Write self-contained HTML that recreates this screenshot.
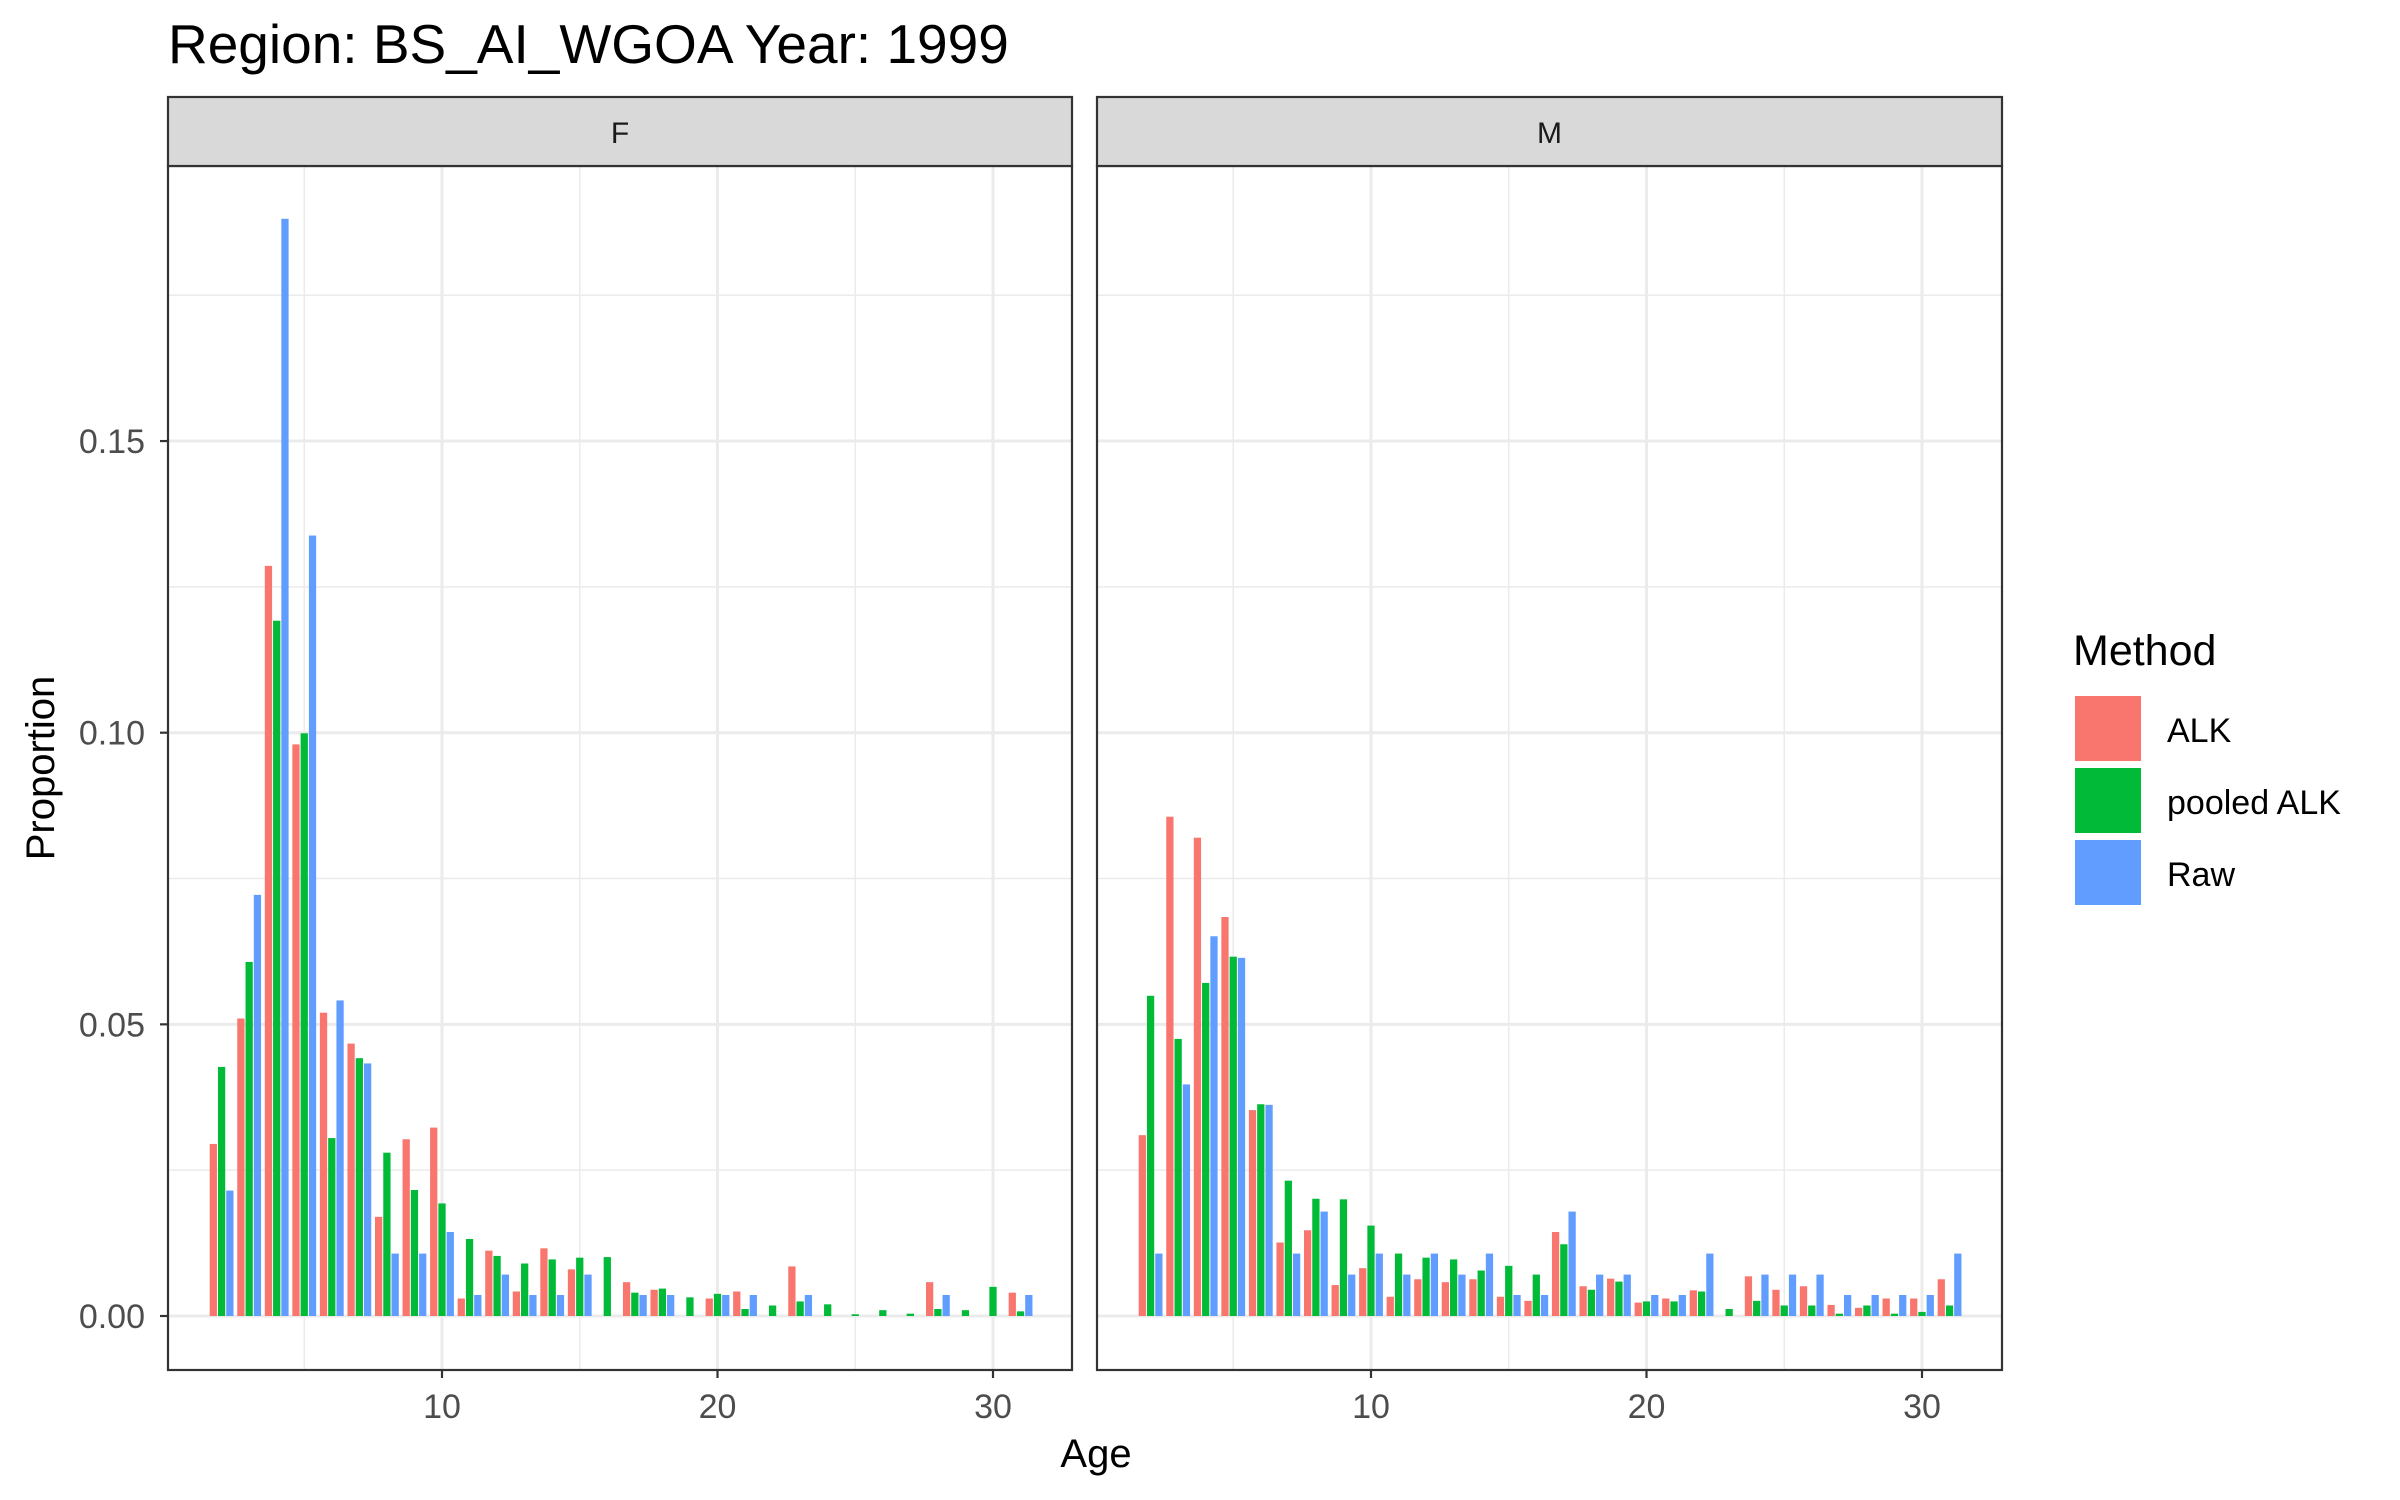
<!DOCTYPE html>
<html><head><meta charset="utf-8"><style>
html,body{margin:0;padding:0;background:#fff;}
svg{display:block;font-family:"Liberation Sans",Arial,sans-serif;}
</style></head><body>
<svg id="chart" width="2400" height="1500" xmlns="http://www.w3.org/2000/svg">
<text x="168" y="63" font-size="55" fill="#000">Region: BS_AI_WGOA Year: 1999</text>
<text x="1096" y="1467" font-size="40" fill="#000" text-anchor="middle">Age</text>
<text transform="translate(54,768) rotate(-90)" font-size="40" fill="#000" text-anchor="middle">Proportion</text>
<g>
<text x="2073" y="665" font-size="43" fill="#000">Method</text>
<rect x="2075" y="696" width="66" height="65" fill="#F8766D"/>
<rect x="2075" y="768" width="66" height="65" fill="#00BA38"/>
<rect x="2075" y="840" width="66" height="65" fill="#619CFF"/>
<text x="2167" y="742" font-size="34" fill="#000">ALK</text>
<text x="2167" y="814" font-size="34" fill="#000">pooled ALK</text>
<text x="2167" y="886" font-size="34" fill="#000">Raw</text>
</g>
</svg>
<script>
const ages = [2,3,4,5,6,7,8,9,10,11,12,13,14,15,16,17,18,19,20,21,22,23,24,25,26,27,28,29,30,31];
const methods = ["ALK","pooled ALK","Raw"];
const colors = ["#F8766D","#00BA38","#619CFF"];
const panels = ["F","M"];
const F_alk = [0.0295,0.051,0.1286,0.098,0.052,0.0467,0.017,0.0303,0.0323,0.003,0.0112,0.0042,0.0116,0.008,null,0.0058,0.0045,null,0.003,0.0042,null,0.0085,null,null,null,null,0.0058,null,null,0.004];
const F_pooled = [0.0427,0.0607,0.1192,0.0999,0.0305,0.0442,0.028,0.0216,0.0193,0.0132,0.0103,0.009,0.0097,0.01,0.0101,0.004,0.0047,0.0032,0.0038,0.0012,0.0018,0.0025,0.002,0.0003,0.001,0.0004,0.0012,0.001,0.005,0.0008];
const F_raw = [0.0215,0.0722,0.1881,0.1338,0.0541,0.0433,0.0107,0.0107,0.0144,0.0036,0.0071,0.0036,0.0036,0.0071,null,0.0036,0.0036,null,0.0036,0.0036,null,0.0036,null,null,null,null,0.0036,null,null,0.0036];
const M_alk = [0.031,0.0856,0.082,0.0684,0.0353,0.0126,0.0147,0.0053,0.0082,0.0033,0.0063,0.0058,0.0063,0.0033,0.0026,0.0144,0.0051,0.0064,0.0023,0.003,0.0044,null,0.0068,0.0045,0.0051,0.0019,0.0014,0.003,0.003,0.0063];
const M_pooled = [0.0549,0.0475,0.0571,0.0616,0.0363,0.0232,0.0201,0.02,0.0155,0.0107,0.01,0.0097,0.0078,0.0086,0.0071,0.0123,0.0045,0.0059,0.0025,0.0025,0.0042,0.0012,0.0026,0.0018,0.0018,0.0004,0.0018,0.0004,0.0007,0.0018];
const M_raw = [0.0107,0.0397,0.0651,0.0614,0.0362,0.0107,0.0179,0.0071,0.0107,0.0071,0.0107,0.0071,0.0107,0.0036,0.0036,0.0179,0.0071,0.0071,0.0036,0.0036,0.0107,null,0.0071,0.0071,0.0071,0.0036,0.0036,0.0036,0.0036,0.0107];
const yTicks = [0,0.05,0.10,0.15];
const yTickLabels = ["0.00","0.05","0.10","0.15"];
const yMinor = [0.025,0.075,0.125,0.175];
const xTicks = [10,20,30];
const xMinor = [5,15,25];

const NS = "http://www.w3.org/2000/svg";
const svgEl = document.getElementById("chart");
function mk(tag, attrs, parent){const e=document.createElementNS(NS,tag);for(const k in attrs)e.setAttribute(k,attrs[k]);(parent||svgEl).appendChild(e);return e;}
const pTop = 166, pBottom = 1370;
function yScale(v){return 1316 - v*5833;}
const panelDefs = [
 {name:"F", left:168, right:1072, x10:442, series:[F_alk,F_pooled,F_raw]},
 {name:"M", left:1097, right:2002, x10:1371, series:[M_alk,M_pooled,M_raw]}
];
panelDefs.forEach((p,pi)=>{
  const xScale = a => p.x10 + (a-10)*27.55;
  const g = mk("g",{});
  
  
  mk("rect",{x:p.left,y:pTop,width:p.right-p.left,height:pBottom-pTop,fill:"#fff"},g);
  yMinor.forEach(v=>{const y=yScale(v);if(y>pTop)mk("line",{x1:p.left,x2:p.right,y1:y,y2:y,stroke:"#ebebeb","stroke-width":1.5},g);});
  xMinor.forEach(v=>{const x=xScale(v);mk("line",{x1:x,x2:x,y1:pTop,y2:pBottom,stroke:"#ebebeb","stroke-width":1.5},g);});
  yTicks.forEach(v=>{const y=yScale(v);const l=mk("line",{x1:p.left,x2:p.right,y1:y,y2:y,stroke:"#ebebeb","stroke-width":3},g);
    
    });
  xTicks.forEach(v=>{const x=xScale(v);const l=mk("line",{x1:x,x2:x,y1:pTop,y2:pBottom,stroke:"#ebebeb","stroke-width":3},g);
    
    });
  const bw = 27.55*0.3;
  p.series.forEach((s,si)=>{
    s.forEach((v,i)=>{
      if(v===null) return;
      const x0 = xScale(ages[i]) - 1.5*bw + si*bw;
      const r = mk("rect",{x:x0+0.5,y:yScale(v),width:bw-1,height:yScale(0)-yScale(v),fill:colors[si]},g);
      
      
    });
  });
  const b = mk("rect",{x:p.left,y:pTop,width:p.right-p.left,height:pBottom-pTop,fill:"none",stroke:"#333","stroke-width":2.2},g);
  
  
  const st = mk("rect",{x:p.left,y:97,width:p.right-p.left,height:69,fill:"#d9d9d9",stroke:"#333","stroke-width":2.2},g);
  
  
  const stt = mk("text",{x:(p.left+p.right)/2,y:143,"font-size":30,fill:"#1a1a1a","text-anchor":"middle"},g);
  stt.textContent = p.name;
  
  
  xTicks.forEach(v=>{const x=xScale(v);mk("line",{x1:x,x2:x,y1:pBottom,y2:pBottom+8,stroke:"#333","stroke-width":2.2},g);
    const t=mk("text",{x:x,y:1418,"font-size":34,fill:"#4d4d4d","text-anchor":"middle"},g);t.textContent=String(v);
    
    });
  if(pi===0){
    yTicks.forEach((v,i)=>{const y=yScale(v);mk("line",{x1:p.left-8,x2:p.left,y1:y,y2:y,stroke:"#333","stroke-width":2.2},g);
      const t=mk("text",{x:145,y:y+12,"font-size":34,fill:"#4d4d4d","text-anchor":"end"},g);t.textContent=yTickLabels[i];
      
      });
  }
});
</script>
</body></html>
